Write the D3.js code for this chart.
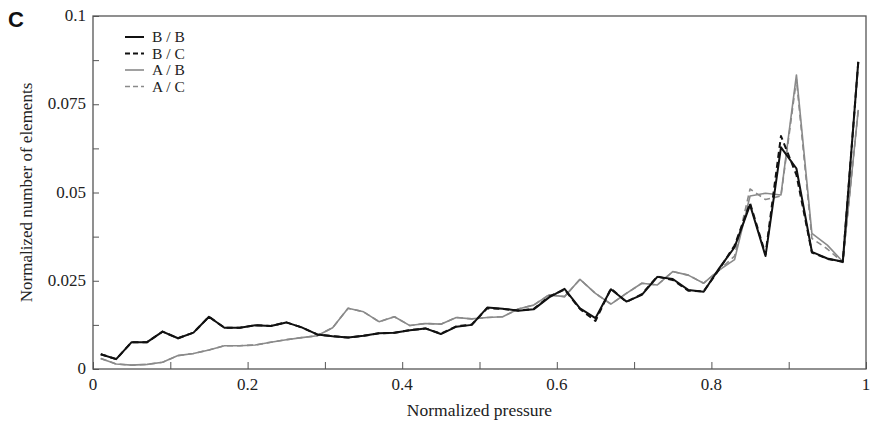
<!DOCTYPE html>
<html>
<head>
<meta charset="utf-8">
<script src="https://cdn.jsdelivr.net/npm/d3@7"></script>
<style>
  body { margin: 0; background: #fff; }
  svg { font-family: "Liberation Serif", "DejaVu Serif", serif; }
</style>
</head>
<body>
<svg id="grafico"></svg>
<script>
// normalized pressure bins (centres)
const pressao = d3.range(50).map(i => +(0.01 + 0.02 * i).toFixed(2));

const serieBB = [0.0042, 0.0028, 0.0076, 0.0076, 0.0106, 0.0087, 0.0103, 0.0148, 0.0117, 0.0117,
  0.0124, 0.0122, 0.0132, 0.0118, 0.0098, 0.0093, 0.0089, 0.0094, 0.0101, 0.0103,
  0.0110, 0.0115, 0.0099, 0.0120, 0.0125, 0.0174, 0.0171, 0.0165, 0.0169, 0.0203,
  0.0227, 0.0172, 0.0144, 0.0226, 0.0191, 0.0210, 0.0261, 0.0255, 0.0224, 0.0219,
  0.0285, 0.0345, 0.0465, 0.0320, 0.0628, 0.0568, 0.0332, 0.0313, 0.0304, 0.0870];
const serieBC = [0.0042, 0.0028, 0.0076, 0.0076, 0.0106, 0.0087, 0.0103, 0.0148, 0.0117, 0.0117,
  0.0124, 0.0122, 0.0132, 0.0118, 0.0098, 0.0093, 0.0089, 0.0094, 0.0101, 0.0103,
  0.0110, 0.0115, 0.0100, 0.0121, 0.0126, 0.0172, 0.0170, 0.0166, 0.0170, 0.0205,
  0.0225, 0.0170, 0.0136, 0.0228, 0.0190, 0.0212, 0.0262, 0.0252, 0.0222, 0.0220,
  0.0282, 0.0350, 0.0470, 0.0325, 0.0660, 0.0550, 0.0330, 0.0312, 0.0304, 0.0870];
const serieAB = [0.0030, 0.0014, 0.0011, 0.0013, 0.0019, 0.0038, 0.0044, 0.0054, 0.0066, 0.0066,
  0.0068, 0.0076, 0.0083, 0.0089, 0.0094, 0.0117, 0.0172, 0.0162, 0.0134, 0.0148,
  0.0123, 0.0129, 0.0127, 0.0146, 0.0142, 0.0146, 0.0148, 0.0170, 0.0181, 0.0210,
  0.0205, 0.0254, 0.0214, 0.0184, 0.0214, 0.0243, 0.0238, 0.0276, 0.0266, 0.0243,
  0.0280, 0.0310, 0.0490, 0.0498, 0.0493, 0.0833, 0.0384, 0.0351, 0.0304, 0.0734];
const serieAC = [0.0030, 0.0014, 0.0011, 0.0013, 0.0019, 0.0038, 0.0044, 0.0054, 0.0066, 0.0066,
  0.0068, 0.0076, 0.0083, 0.0089, 0.0094, 0.0117, 0.0172, 0.0162, 0.0134, 0.0148,
  0.0123, 0.0129, 0.0127, 0.0146, 0.0142, 0.0146, 0.0148, 0.0170, 0.0181, 0.0210,
  0.0205, 0.0254, 0.0214, 0.0184, 0.0214, 0.0243, 0.0238, 0.0276, 0.0266, 0.0243,
  0.0280, 0.0320, 0.0510, 0.0480, 0.0490, 0.0820, 0.0370, 0.0340, 0.0302, 0.0734];

const nomesSeries = ['B / B', 'B / C', 'A / B', 'A / C'];
const valoresSeries = [serieBB, serieBC, serieAB, serieAC];
const ticksX = [0, 0.2, 0.4, 0.6, 0.8, 1];
const ticksY = [0, 0.025, 0.05, 0.075, 0.1];
const rotulosY = ['0', '0.025', '0.05', '0.075', '0.1'];

const estilos = [
  { cor: '#111', largura: 2, traco: null },
  { cor: '#111', largura: 2, traco: '6,4' },
  { cor: '#8a8a8a', largura: 1.6, traco: null },
  { cor: '#8a8a8a', largura: 1.6, traco: '6,4' }
];

const largura = 873, altura = 426;
const margem = { esquerda: 93, direita: 7, superior: 16, inferior: 57 };

const svg = d3.select('#grafico').attr('width', largura).attr('height', altura);

const x = d3.scaleLinear().domain([0, 1]).range([margem.esquerda, largura - margem.direita]);
const y = d3.scaleLinear().domain([0, 0.1]).range([altura - margem.inferior, margem.superior]);

// ticks pointing inward
svg.append('g')
  .attr('transform', `translate(0, ${y(0)})`)
  .call(d3.axisTop(x).tickValues(d3.range(0, 1.001, 0.1)).tickSize(7).tickFormat(''))
  .call(g => g.select('.domain').remove())
  .call(g => g.selectAll('line').attr('stroke', '#555'));

svg.append('g')
  .attr('transform', `translate(${x(0)}, 0)`)
  .call(d3.axisRight(y).tickValues(d3.range(0, 0.1001, 0.0125)).tickSize(6).tickFormat(''))
  .call(g => g.select('.domain').remove())
  .call(g => g.selectAll('line').attr('stroke', '#555'));

// frame
svg.append('rect')
  .attr('x', x(0)).attr('y', y(0.1))
  .attr('width', x(1) - x(0)).attr('height', y(0) - y(0.1))
  .attr('fill', 'none').attr('stroke', '#555').attr('stroke-width', 1.3);

// tick labels
svg.selectAll('.rotuloX')
  .data(ticksX)
  .enter()
  .append('text')
  .classed('rotuloX', true)
  .attr('x', d => x(d))
  .attr('y', y(0) + 21)
  .attr('text-anchor', 'middle')
  .attr('font-size', 17)
  .attr('fill', '#222')
  .text(d => d);

svg.selectAll('.rotuloY')
  .data(ticksY)
  .enter()
  .append('text')
  .classed('rotuloY', true)
  .attr('x', x(0) - 7)
  .attr('y', d => y(d) + 5)
  .attr('text-anchor', 'end')
  .attr('font-size', 17)
  .attr('fill', '#222')
  .text((d, i) => rotulosY[i]);

svg.append('text')
  .attr('x', (x(0) + x(1)) / 2)
  .attr('y', 416)
  .attr('text-anchor', 'middle')
  .attr('font-size', 17.5)
  .attr('fill', '#222')
  .text('Normalized pressure');

svg.append('text')
  .attr('transform', `translate(32, ${(y(0) + y(0.1)) / 2}) rotate(-90)`)
  .attr('text-anchor', 'middle')
  .attr('font-size', 17)
  .attr('fill', '#222')
  .text('Normalized number of elements');

svg.append('text')
  .attr('x', 8).attr('y', 27)
  .attr('font-family', 'Liberation Sans, Arial, sans-serif')
  .attr('font-weight', 'bold')
  .attr('font-size', 22)
  .attr('fill', '#111')
  .text('C');

// lines, gray ones first so the black ones sit on top
const linha = d3.line().x((d, i) => x(pressao[i])).y(d => y(d));
const ordem = [2, 3, 0, 1];
ordem.forEach(k => {
  svg.append('path')
    .datum(valoresSeries[k])
    .attr('d', linha)
    .attr('fill', 'none')
    .attr('stroke', estilos[k].cor)
    .attr('stroke-width', estilos[k].largura)
    .attr('stroke-dasharray', estilos[k].traco)
    .attr('stroke-linejoin', 'round');
});

// legend
const legenda = svg.selectAll('.legenda')
  .data(nomesSeries)
  .enter()
  .append('g')
  .classed('legenda', true)
  .attr('transform', (d, i) => `translate(125, ${37 + i * 16.5})`);

legenda.append('line')
  .attr('x1', 0).attr('x2', 19)
  .attr('stroke', (d, i) => estilos[i].cor)
  .attr('stroke-width', (d, i) => estilos[i].largura)
  .attr('stroke-dasharray', (d, i) => estilos[i].traco ? '5,3' : null);

legenda.append('text')
  .attr('x', 27)
  .attr('y', 5)
  .attr('font-size', 15.5)
  .attr('fill', '#222')
  .text(d => d);
</script>
</body>
</html>
